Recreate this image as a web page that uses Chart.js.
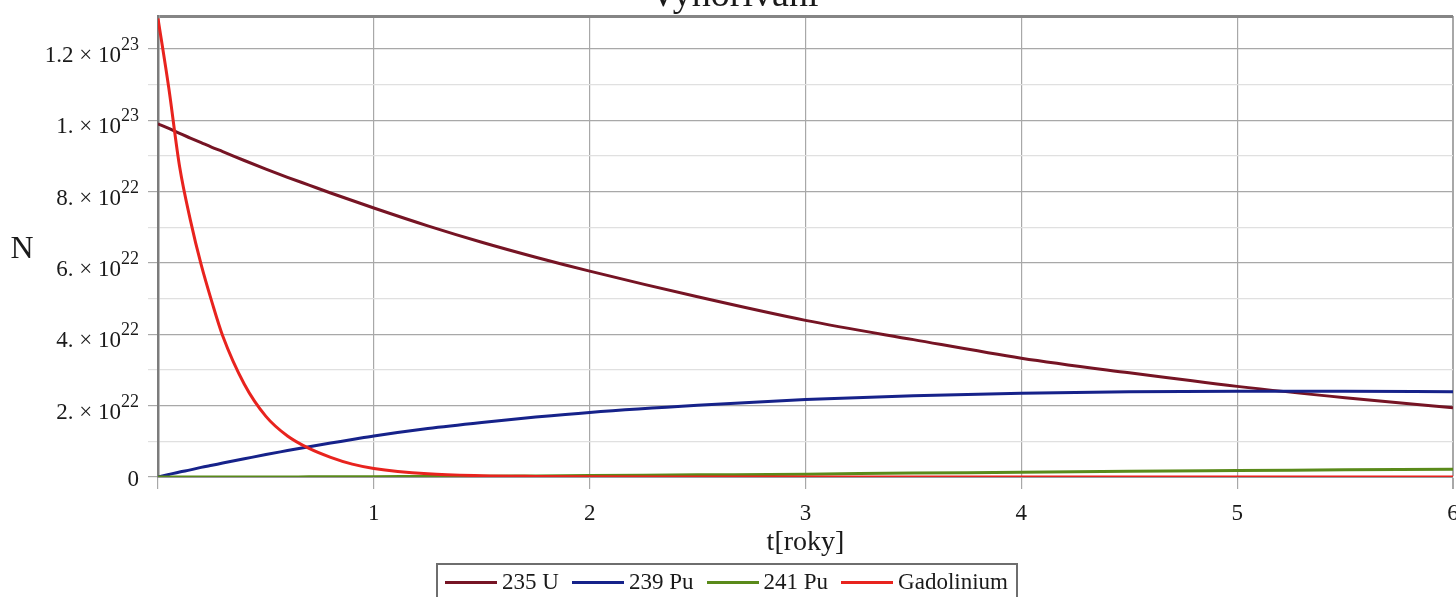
<!DOCTYPE html>
<html>
<head>
<meta charset="utf-8">
<script src="https://cdn.jsdelivr.net/npm/chart.js@4.4.0/dist/chart.umd.min.js"></script>
<style>
  html, body { margin: 0; padding: 0; background: #fff; overflow: hidden; }
  #wrap { position: relative; width: 1456px; height: 597px; overflow: hidden; }
  #legend {
    position: absolute; left: 436px; top: 563px; width: 582px; height: 40px;
    border: 2px solid #6e6e6e; box-sizing: border-box;
    display: flex; align-items: flex-start; justify-content: space-between;
    padding: 4px 8px 0 7px;
    font: 23px "Liberation Serif", serif; color: #1a1a1a;
  }
  .item { display: flex; align-items: center; white-space: nowrap; }
  .swatch { display: inline-block; width: 52px; height: 3px; margin-right: 5px; }
</style>
</head>
<body>
<div id="wrap">
  <canvas id="chart" width="1456" height="597"></canvas>
  <div id="legend"></div>
</div>
<script>
// time in years
const tYears = [0, 0.05, 0.1, 0.15, 0.2, 0.25, 0.3, 0.4, 0.5, 0.6, 0.7, 0.8, 0.9, 1,
  1.25, 1.5, 1.75, 2, 2.5, 3, 3.5, 4, 4.5, 5, 5.5, 6];

// number of nuclei, in units of 1e22
const u235 = [9.9, 9.77, 9.63, 9.5, 9.37, 9.24, 9.12, 8.87, 8.63, 8.4, 8.18, 7.96, 7.75, 7.54,
  7.04, 6.58, 6.16, 5.77, 5.05, 4.39, 3.85, 3.33, 2.92, 2.54, 2.22, 1.94];
const pu239 = [0, 0.07, 0.14, 0.2, 0.27, 0.33, 0.39, 0.51, 0.63, 0.74, 0.85, 0.95, 1.05, 1.15,
  1.36, 1.53, 1.68, 1.81, 2.01, 2.17, 2.28, 2.35, 2.39, 2.4, 2.4, 2.39];
const pu241 = [0, 0, 0, 0, 0, 0, 0, 0, 0.002, 0.003, 0.004, 0.005, 0.007, 0.01,
  0.013, 0.02, 0.03, 0.04, 0.06, 0.08, 0.11, 0.13, 0.16, 0.18, 0.2, 0.22];
const gadolinium = [12.85, 10.9, 8.7, 7.2, 5.95, 4.9, 3.95, 2.6, 1.7, 1.15, 0.8, 0.55, 0.36, 0.24,
  0.09, 0.035, 0.015, 0.005, 0, 0, 0, 0, 0, 0, 0, 0];

const seriesNames = ['235 U', '239 Pu', '241 Pu', 'Gadolinium'];
const seriesColors = ['#761424', '#16228a', '#5a8a1a', '#e8231e'];
const xTicks = [1, 2, 3, 4, 5, 6];
const yTickValues = [0, 2, 4, 6, 8, 10, 12];
const yTickMantissa = ['0', '2. × 10', '4. × 10', '6. × 10', '8. × 10', '1. × 10', '1.2 × 10'];
const yTickExponent = ['', '22', '22', '22', '22', '23', '23'];
const titleText = 'Vyhořívání';
const xTitle = 't[roky]';
const yTitle = 'N';
const yMax = 12.92;

const serif = '"Liberation Serif", serif';
const allSeries = [u235, pu239, pu241, gadolinium];

const datasets = allSeries.map((vals, i) => ({
  label: seriesNames[i],
  data: tYears.map((t, k) => ({ x: t, y: vals[k] })),
  borderColor: seriesColors[i],
  backgroundColor: seriesColors[i],
  borderWidth: 3,
  pointRadius: 0,
  cubicInterpolationMode: 'monotone',
  order: 4 - i
}));

const isMajor = (v) => yTickValues.includes(v);

// title, upright axis letter and y labels with raised exponents
const extraText = {
  id: 'extraText',
  afterDraw(chart) {
    const c = chart.ctx;
    const ys = chart.scales.y;
    c.save();
    c.fillStyle = '#1a1a1a';
    c.textAlign = 'center';
    c.textBaseline = 'alphabetic';
    c.font = '38px ' + serif;
    c.fillText(titleText, 734, 6);
    c.font = '32px ' + serif;
    c.textBaseline = 'middle';
    c.fillText(yTitle, 22, 250);

    c.textBaseline = 'alphabetic';
    c.textAlign = 'left';
    const right = 139;
    yTickValues.forEach((v, i) => {
      const py = ys.getPixelForValue(v);
      c.font = '18px ' + serif;
      const ew = c.measureText(yTickExponent[i]).width;
      c.font = '23px ' + serif;
      const mw = c.measureText(yTickMantissa[i]).width;
      const x0 = right - ew - mw;
      c.fillText(yTickMantissa[i], x0, py + (v === 0 ? 9 : 13));
      if (yTickExponent[i]) {
        c.font = '18px ' + serif;
        c.fillText(yTickExponent[i], x0 + mw, py + 1);
      }
    });
    c.restore();
  }
};

new Chart(document.getElementById('chart'), {
  type: 'line',
  data: { datasets },
  plugins: [extraText],
  options: {
    responsive: false,
    animation: false,
    events: [],
    layout: { padding: { top: 16, right: 3, left: 0, bottom: 40 } },
    plugins: { legend: { display: false }, tooltip: { enabled: false } },
    scales: {
      x: {
        type: 'linear',
        min: 0,
        max: 6,
        afterBuildTicks(s) { s.ticks = [0].concat(xTicks).map(v => ({ value: v })); },
        afterFit(s) { s.height = 80; s.paddingLeft = 0; s.paddingRight = 0; },
        ticks: {
          color: '#1a1a1a',
          font: { family: serif, size: 23 },
          padding: 11,
          maxRotation: 0,
          callback: (v) => (v === 0 ? '' : String(v))
        },
        grid: {
          color: '#a8a8a8',
          lineWidth: (ctx) => (ctx.tick && ctx.tick.value === 6 ? 2 : 1.2),
          tickLength: 12
        },
        border: { display: true, color: '#9a9a9a', width: 2 },
        title: {
          display: true,
          text: xTitle,
          color: '#1a1a1a',
          font: { family: serif, size: 28, lineHeight: 1 },
          padding: { top: 0, bottom: 0 }
        }
      },
      y: {
        min: 0,
        max: yMax,
        afterFit(s) { s.width = 158; s.paddingTop = 0; s.paddingBottom = 0; },
        ticks: {
          stepSize: 1,
          display: false
        },
        grid: {
          color: (ctx) => {
            const v = ctx.tick ? ctx.tick.value : 0;
            if (v === yMax) return '#858585';
            return isMajor(v) ? '#a8a8a8' : '#e0e0e0';
          },
          tickColor: (ctx) => {
            const v = ctx.tick ? ctx.tick.value : 0;
            if (v === yMax) return 'rgba(0,0,0,0)';
            return isMajor(v) ? '#a8a8a8' : '#e0e0e0';
          },
          lineWidth: (ctx) => (ctx.tick && ctx.tick.value === yMax ? 3 : 1.2),
          tickLength: 10
        },
        border: { display: true, color: '#7c7c7c', width: 2.5 }
      }
    }
  }
});

// legend box under the plot
const legend = document.getElementById('legend');
seriesNames.forEach((name, i) => {
  const item = document.createElement('span');
  item.className = 'item';
  const sw = document.createElement('span');
  sw.className = 'swatch';
  sw.style.background = seriesColors[i];
  item.appendChild(sw);
  item.appendChild(document.createTextNode(name));
  legend.appendChild(item);
});
</script>
</body>
</html>
